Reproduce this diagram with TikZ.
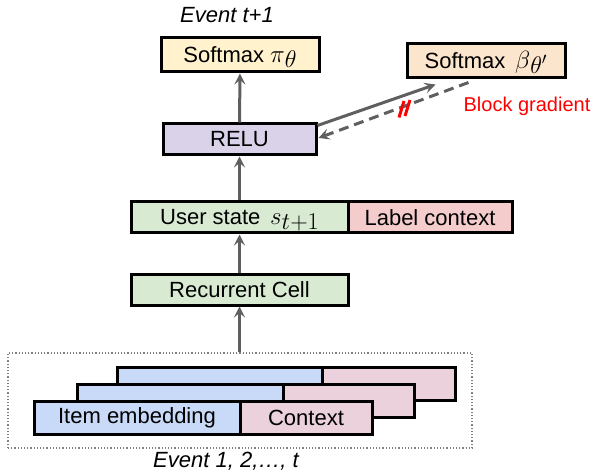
\documentclass[tikz,border=0pt]{standalone}
\usepackage{fontspec}
\usepackage{graphicx}
\setmainfont{Liberation Sans}
\usetikzlibrary{arrows.meta,calc}
\definecolor{cyellow}{HTML}{FFF2CC}
\definecolor{corange}{HTML}{FCE5CD}
\definecolor{cpurple}{HTML}{D9D2E9}
\definecolor{cgreen}{HTML}{D9EAD3}
\definecolor{cred}{HTML}{F4CCCC}
\definecolor{cblue}{HTML}{C9DAF8}
\definecolor{cpink}{HTML}{EAD1DC}
\definecolor{cgray}{HTML}{5F5F5F}
\newcommand{\mysub}[1]{\raisebox{-4.5pt}{\scalebox{1.4}{$\scriptstyle #1$}}}
\newcommand{\mymath}[1]{\smash{\fontsize{25}{27}\selectfont$#1$}}
\begin{document}
\begin{tikzpicture}[x=1pt,y=-1pt,
  box/.style={draw=black,line width=3pt,inner sep=0pt,anchor=center,
    font=\fontsize{22}{26}\selectfont},
  arr/.style={draw=cgray,line width=3pt,-{Stealth[length=11pt,width=11pt,inset=4.5pt]}},
  lbl/.style={font=\fontsize{22}{26}\selectfont\itshape,inner sep=0pt}]
\useasboundingbox (0,0) rectangle (592,473);
% event stack
\node[draw=gray,dotted,line width=1.2pt,minimum width=464pt,minimum height=95pt,inner sep=0pt] (events) at (240,400.5) {};
\node[box,fill=cblue,minimum width=205pt,minimum height=33pt] (b3) at (219.5,383.5) {};
\node[box,fill=cpink,minimum width=133pt,minimum height=33pt] (p3) at (388.5,383.5) {};
\node[box,fill=cblue,minimum width=206pt,minimum height=33pt] (b2) at (180,400.5) {};
\node[box,fill=cpink,minimum width=131pt,minimum height=33pt] (p2) at (348.5,400.5) {};
\node[box,fill=cblue,minimum width=206pt,minimum height=33pt] (b1) at (137,417.5) {Item embedding};
\node[box,fill=cpink,minimum width=132pt,minimum height=33pt] (p1) at (306,417.5) {Context};
\node[lbl] (evt) at (226,461) {Event 1, 2,…, t};
% main column
\node[box,fill=cgreen,minimum width=217pt,minimum height=30pt] (rec) at (239.5,290) {Recurrent Cell};
\node[box,fill=cgreen,minimum width=217pt,minimum height=31pt] (user) at (239.5,217.5) {User state\, \mymath{s\mysub{t+1}}};
\node[box,fill=cred,minimum width=164pt,minimum height=31pt] (lctx) at (430,217.5) {Label context};
\node[box,fill=cpurple,minimum width=153pt,minimum height=31pt] (relu) at (239.5,139.5) {RELU};
\node[box,fill=cyellow,minimum width=158pt,minimum height=34pt] (smpi) at (240,55) {Softmax \mymath{\pi\mysub{\theta}}\hspace{16pt}};
\node[box,fill=corange,minimum width=158pt,minimum height=34pt] (smb) at (486,61) {Softmax \,\mymath{\beta\mysub{\theta'}}\hspace{8pt}};
\node[lbl] (evt1) at (227,15) {Event t+1};
\node[font=\fontsize{20}{24}\selectfont,text=red,inner sep=0pt] (blk) at (527,106) {Block gradient};
% connectors
\draw[arr] (events.north -| rec.south) -- (rec.south);
\draw[arr] (rec.north) -- (user.south);
\draw[arr] (user.north) -- (relu.south);
\draw[arr] (relu.north) -- (smpi.south);
\draw[arr] ([yshift=-3pt]relu.north east) -- ([xshift=30pt,yshift=-5pt]smb.south west);
\draw[arr,dashed,dash pattern=on 10pt off 6pt] ([xshift=63pt,yshift=-3pt]smb.south west) -- ([xshift=1pt,yshift=1.5pt]relu.east);
\draw[red,line width=3pt] (399,117.5) -- (404,101);
\draw[red,line width=3pt] (405,116) -- (410,100);
\end{tikzpicture}
\end{document}
